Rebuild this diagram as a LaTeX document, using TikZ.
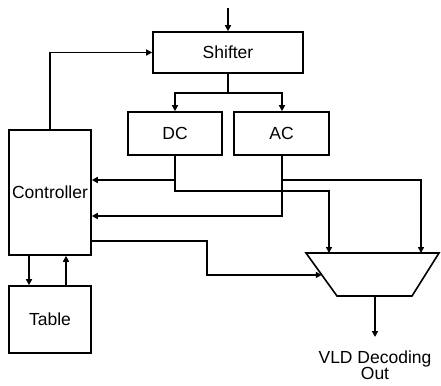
\documentclass[tikz,border=0pt]{standalone}
\usepackage{fontspec}
\setmainfont{Liberation Sans}
\usetikzlibrary{arrows.meta,calc}

\begin{document}
\begin{tikzpicture}[
      x=1pt, y=-1pt,
      font=\fontsize{17.5}{19}\selectfont,
      box/.style  = {draw, line width=1.6pt, inner sep=0pt, align=center},
      sig/.style  = {-{Triangle[length=6pt,width=6pt]}, line width=1.6pt},
      wire/.style = {line width=1.6pt},
      lbl/.style  = {inner sep=0pt, align=center, font=\fontsize{17.5}{16}\selectfont},
    ]
    \useasboundingbox (0,0) rectangle (441,385);

    \node[box, minimum width=150pt, minimum height=41pt] (shifter) at (228,52.5) {Shifter};
    \node[box, minimum width=94pt, minimum height=43pt] (dc) at (175,133.5) {DC};
    \node[box, minimum width=95pt, minimum height=43pt] (ac) at (281.5,133.5) {AC};
    \node[box, minimum width=82pt, minimum height=125pt] (ctrl) at (50,192.5) {Controller};
    \node[box, minimum width=82pt, minimum height=67pt] (table) at (50,319.5) {Table};

    \coordinate (mtl) at (306,253);
    \coordinate (mtr) at (439,253);
    \coordinate (mbr) at (412,296);
    \coordinate (mbl) at (337,296);
    \draw[wire, line join=miter] (mtl) -- (mtr) -- (mbr) -- (mbl) -- cycle;
    \coordinate (min1) at (329,253);
    \coordinate (min2) at (421,253);
    \coordinate (min3) at ($(mtl)!0.51!(mbl)$);
    \coordinate (mout) at (375,296);
    \node[lbl, anchor=north] (out) at (375,351) {VLD Decoding\\Out};

    \coordinate (in) at (228,8);
    \coordinate (split) at (228,93);
    \coordinate (dcsplit) at (175,180);
    \coordinate (acsplit) at (282,180);
    \coordinate (acturn) at (282,216);
    \coordinate (ctrlout) at (91,241);
    \coordinate (ctrlturn) at (207,241);

    \draw[sig] (in) -- (shifter.north);
    \draw[wire] (shifter.south) -- (split);
    \draw[sig] (split) -| (dc.north);
    \draw[sig] (split) -| (acsplit |- ac.north);
    \draw[sig] (ctrl.north) |- (shifter.west);

    \draw[sig] (dc.south) -- (dcsplit) -- (dcsplit -| ctrl.east);
    \draw[sig] (dcsplit) -- ++(0,11) -| (min1);
    \draw[sig] (acsplit |- ac.south) -- (acturn) -- (acturn -| ctrl.east);
    \draw[sig] (acsplit) -| (min2);
    \draw[sig] (ctrlout) -- (ctrlturn) |- (min3);

    \draw[sig] ([xshift=-21pt]ctrl.south) -- ([xshift=-21pt]table.north);
    \draw[sig] ([xshift=16pt]table.north) -- ([xshift=16pt]ctrl.south);

    \draw[sig] (mout) -- ++(0,41);
  \end{tikzpicture}
\end{document}
